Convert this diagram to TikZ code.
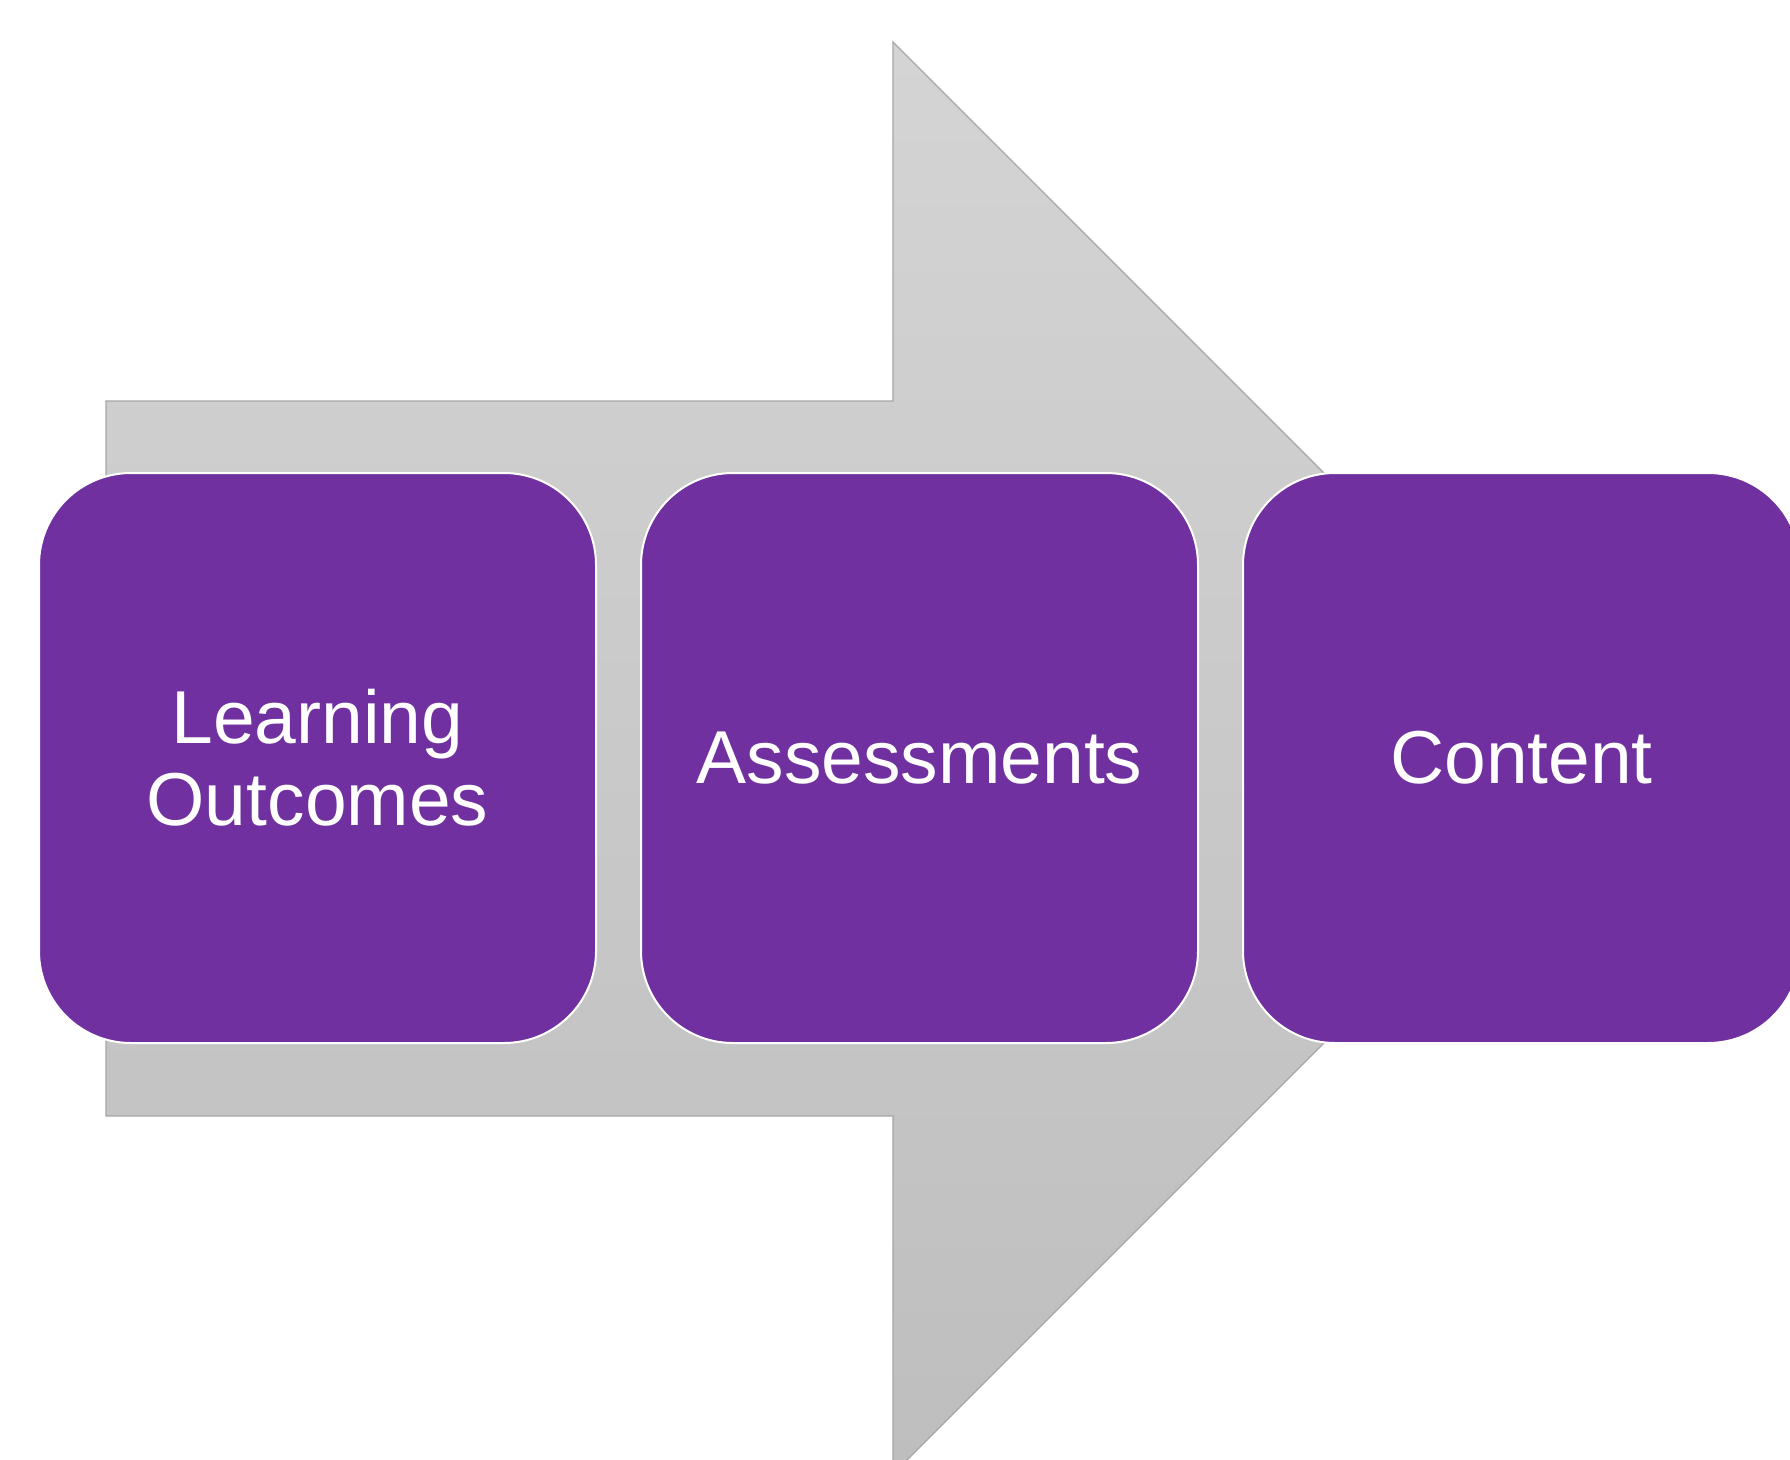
\documentclass[tikz,border=0pt]{standalone}
\usepackage{fontspec}
\setmainfont{Liberation Sans}
\definecolor{boxpurple}{HTML}{7030A0}
\definecolor{arrtop}{HTML}{D4D4D4}
\definecolor{arrbot}{HTML}{BEBEBE}
\definecolor{arredge}{HTML}{A6A6A6}
\begin{document}
\begin{tikzpicture}[x=1pt,y=-1pt,
  stagebox/.style={rectangle, rounded corners=92pt, draw=white, line width=2pt,
    fill=boxpurple, minimum width=557pt, minimum height=570pt, inner sep=0pt,
    text=white, align=center, font=\fontsize{75}{82}\selectfont}]
\useasboundingbox (0,0) rectangle (1790,1459);
\clip (0,0) rectangle (1790,1459);
\path[top color=arrtop, bottom color=arrbot, draw=arredge, line width=1.2pt]
  (106,401) -- (893,401) -- (893,42) -- (1609,758) -- (893,1474)
  -- (893,1116) -- (106,1116) -- cycle;
\node[stagebox] (lo) at (317.5,758) {Learning\\Outcomes};
\node[stagebox] (as) at (919.5,758) {Assessments};
\node[stagebox] (co) at (1521.5,758) {Content};
\end{tikzpicture}
\end{document}
